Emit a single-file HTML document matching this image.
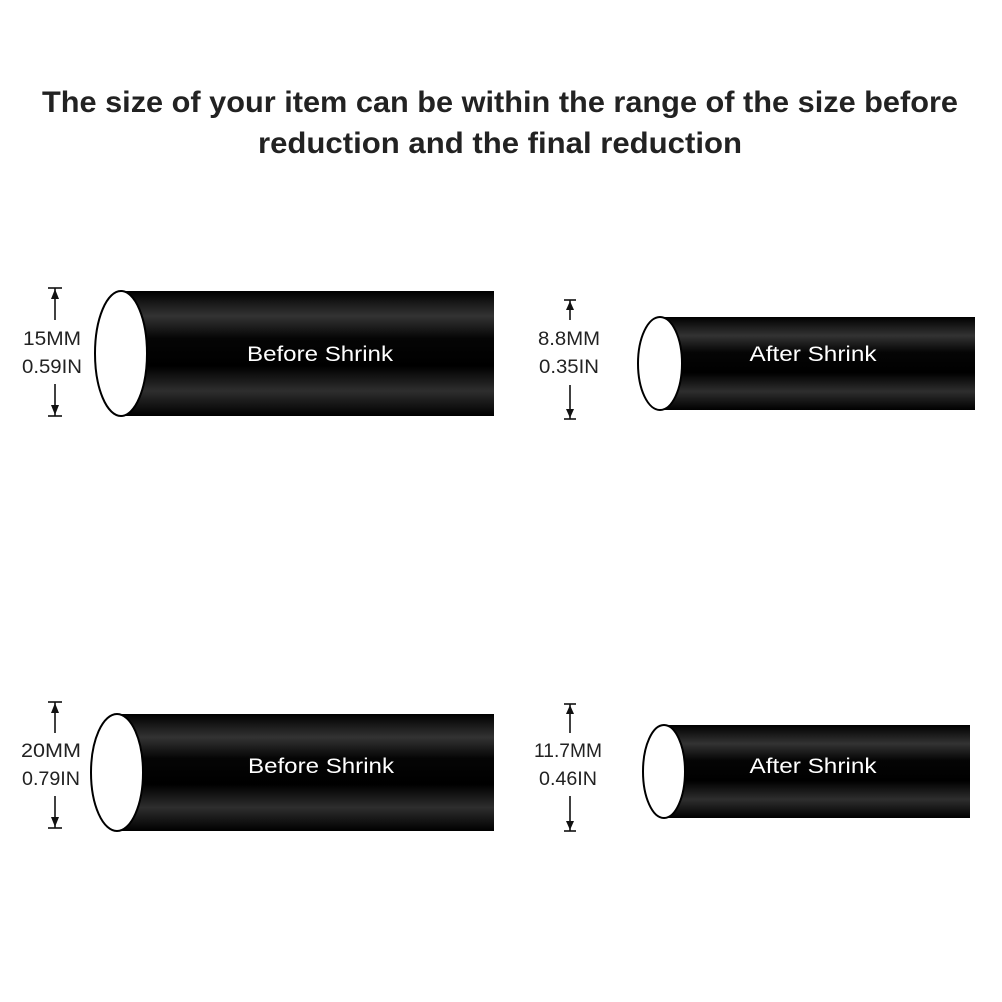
<!DOCTYPE html>
<html><head><meta charset="utf-8"><style>
html,body{margin:0;padding:0;background:#fff;}
svg{display:block;}
</style></head><body>
<svg width="1002" height="1002" viewBox="0 0 1002 1002" xmlns="http://www.w3.org/2000/svg">
<defs>
<linearGradient id="g" x1="0" y1="0" x2="0" y2="1">
<stop offset="0" stop-color="#000"/>
<stop offset="0.2" stop-color="#333"/>
<stop offset="0.38" stop-color="#050505"/>
<stop offset="0.6" stop-color="#000"/>
<stop offset="0.8" stop-color="#2e2e2e"/>
<stop offset="1" stop-color="#000"/>
</linearGradient>
</defs>
<g font-family="Liberation Sans, sans-serif" font-weight="bold" fill="#222" font-size="30" text-anchor="middle">
<text x="500" y="112" textLength="916" lengthAdjust="spacingAndGlyphs">The size of your item can be within the range of the size before</text>
<text x="500" y="153" textLength="484" lengthAdjust="spacingAndGlyphs">reduction and the final reduction</text>
</g>

<rect x="121" y="291" width="373" height="125" fill="url(#g)"/>
<ellipse cx="121" cy="353.5" rx="26" ry="62.5" fill="#fff" stroke="#000" stroke-width="2"/>
<rect x="660" y="317" width="315" height="93" fill="url(#g)"/>
<ellipse cx="660" cy="363.5" rx="22" ry="46.5" fill="#fff" stroke="#000" stroke-width="2"/>
<rect x="117" y="714" width="377" height="117" fill="url(#g)"/>
<ellipse cx="117" cy="772.5" rx="26" ry="58.5" fill="#fff" stroke="#000" stroke-width="2"/>
<rect x="664" y="725" width="306" height="93" fill="url(#g)"/>
<ellipse cx="664" cy="771.5" rx="21" ry="46.5" fill="#fff" stroke="#000" stroke-width="2"/>

<g font-family="Liberation Sans, sans-serif" fill="#fff" font-size="21" text-anchor="middle">
<text x="320" y="361" textLength="146" lengthAdjust="spacingAndGlyphs">Before Shrink</text>
<text x="813" y="361" textLength="127" lengthAdjust="spacingAndGlyphs">After Shrink</text>
<text x="321" y="773" textLength="146" lengthAdjust="spacingAndGlyphs">Before Shrink</text>
<text x="813" y="773" textLength="127" lengthAdjust="spacingAndGlyphs">After Shrink</text>
</g>

<g stroke="#111" stroke-width="1.6" fill="none">
<line x1="55" y1="288" x2="55" y2="320"/>
<line x1="55" y1="384" x2="55" y2="416"/>
<line x1="48" y1="288" x2="62" y2="288"/><line x1="48" y1="416" x2="62" y2="416"/>
<line x1="570" y1="300" x2="570" y2="320"/>
<line x1="570" y1="385" x2="570" y2="419"/>
<line x1="564" y1="300" x2="576" y2="300"/><line x1="564" y1="419" x2="576" y2="419"/>
<line x1="55" y1="702" x2="55" y2="733"/>
<line x1="55" y1="796" x2="55" y2="828"/>
<line x1="48" y1="702" x2="62" y2="702"/><line x1="48" y1="828" x2="62" y2="828"/>
<line x1="570" y1="704" x2="570" y2="733"/>
<line x1="570" y1="796" x2="570" y2="831"/>
<line x1="564" y1="704" x2="576" y2="704"/><line x1="564" y1="831" x2="576" y2="831"/>
</g>
<g fill="#111">
<path d="M51 299 L55 289 L59 299 Z"/><path d="M51 405 L55 415 L59 405 Z"/>
<path d="M566 310 L570 301 L574 310 Z"/><path d="M566 409 L570 418 L574 409 Z"/>
<path d="M51 713 L55 703 L59 713 Z"/><path d="M51 817 L55 827 L59 817 Z"/>
<path d="M566 714 L570 705 L574 714 Z"/><path d="M566 821 L570 830 L574 821 Z"/>
</g>

<g font-family="Liberation Sans, sans-serif" fill="#222" font-size="19" text-anchor="middle">
<text x="52" y="345" textLength="58" lengthAdjust="spacingAndGlyphs">15MM</text>
<text x="52" y="373" textLength="60" lengthAdjust="spacingAndGlyphs">0.59IN</text>
<text x="569" y="345" textLength="62" lengthAdjust="spacingAndGlyphs">8.8MM</text>
<text x="569" y="373" textLength="60" lengthAdjust="spacingAndGlyphs">0.35IN</text>
<text x="51" y="757" textLength="60" lengthAdjust="spacingAndGlyphs">20MM</text>
<text x="51" y="785" textLength="58" lengthAdjust="spacingAndGlyphs">0.79IN</text>
<text x="568" y="757" textLength="68" lengthAdjust="spacingAndGlyphs">11.7MM</text>
<text x="568" y="785" textLength="58" lengthAdjust="spacingAndGlyphs">0.46IN</text>
</g>
</svg>
</body></html>
